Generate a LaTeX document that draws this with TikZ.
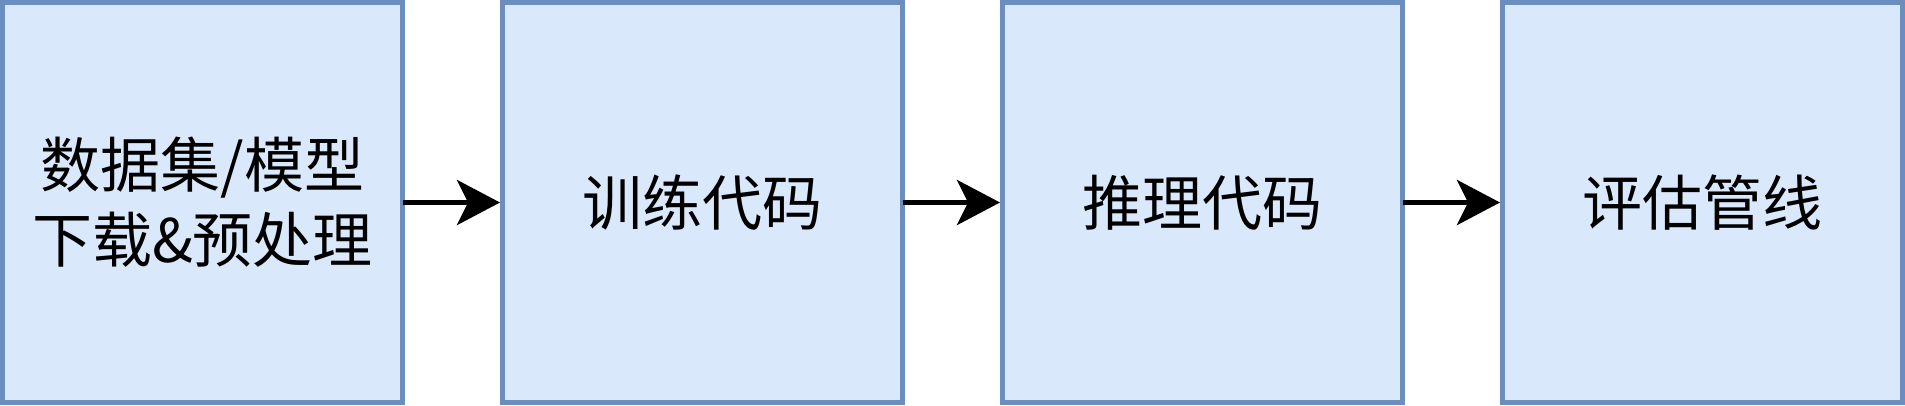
\documentclass[tikz,border=0pt]{standalone}
\usepackage{fontspec}
\setmainfont{Noto Sans CJK SC}
\usetikzlibrary{positioning,arrows.meta}
\definecolor{boxfill}{HTML}{DAE8FC}
\definecolor{boxline}{HTML}{6C8EBF}
\tikzset{
    stage/.style={draw=boxline,fill=boxfill,line width=5pt,minimum width=400pt,minimum height=400pt,
        inner sep=0pt,outer sep=0pt,align=center,font=\fontsize{60}{75}\selectfont},
    flow/.style={-{Stealth[length=43pt,width=45pt,inset=11pt]},line width=5pt,shorten >=2.5pt}
}
\begin{document}
\begin{tikzpicture}
        \useasboundingbox (0,0) rectangle (1905pt,405pt);
        \node (data) at (202.5pt,202.5pt) [stage]{数据集/模型\\下载\&预处理};
        \node (train) [stage,right=100pt of data]{训练代码};
        \node (infer) [stage,right=100pt of train]{推理代码};
        \node (eval) [stage,right=100pt of infer]{评估管线};

        \draw [flow](data) -- (train);
        \draw [flow](train) -- (infer);
        \draw [flow](infer) -- (eval);

    \end{tikzpicture}
\end{document}
